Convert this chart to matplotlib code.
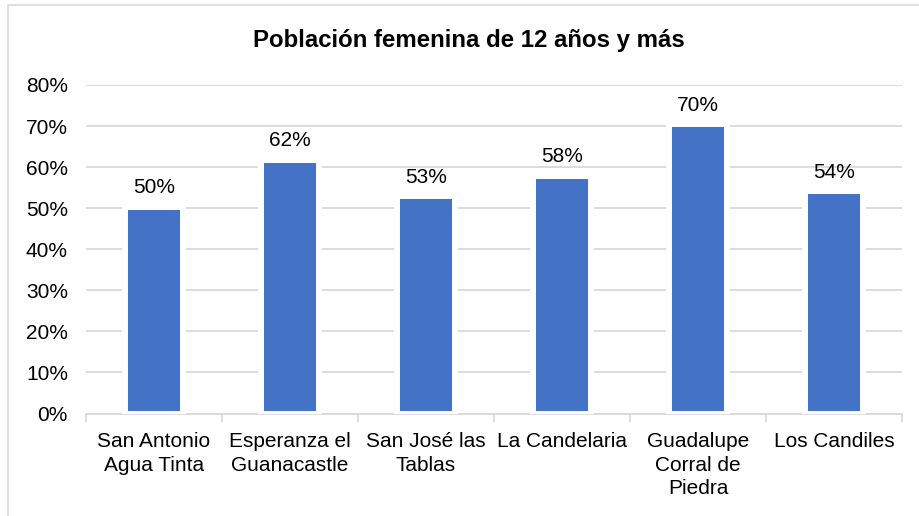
import matplotlib
matplotlib.use("Agg")
import matplotlib.pyplot as plt
from matplotlib.patches import Rectangle
import numpy as np

plt.rcParams['font.family'] = ['Liberation Sans', 'DejaVu Sans']

# data
categories = ["San Antonio\nAgua Tinta", "Esperanza el\nGuanacastle", "San José las\nTablas",
              "La Candelaria", "Guadalupe\nCorral de\nPiedra", "Los Candiles"]
values = [50.3, 61.8, 52.9, 57.9, 70.4, 54.1]
y_ticks = [0, 10, 20, 30, 40, 50, 60, 70, 80]

W, H = 919, 516
fig = plt.figure(figsize=(W / 100, H / 100), dpi=100)

# chart frame (cropped on the right and bottom)
fig.patches.append(Rectangle((8 / W, -0.1), 1.2, (H - 5) / H + 0.1, transform=fig.transFigure,
                             fill=False, edgecolor="#d9d9d9", linewidth=1.2))

ax = fig.add_axes([86 / W, (H - 413.5) / H, (902 - 86) / W, (413.5 - 85) / H])

x = np.arange(len(categories))
ax.bar(x, values, width=0.42, color="#4472C4", edgecolor="white", linewidth=4.3, zorder=3)

for xi, v in zip(x, values):
    ax.annotate(f"{v:.0f}%", (xi, v), xytext=(0, 7), textcoords="offset points",
                ha="center", va="bottom", fontsize=15, color="black")

ax.set_xlim(-0.5, len(categories) - 0.5)
ax.set_ylim(0, 80)
ax.set_yticks(y_ticks)
ax.set_yticklabels([f"{t}%" for t in y_ticks], fontsize=15)
ax.tick_params(axis="y", length=0, pad=13)
ax.grid(axis="y", color="#d9d9d9", linewidth=1.3, zorder=0)

# tick marks between categories, labels at centres
ax.set_xticks(np.arange(-0.5, len(categories), 1))
ax.set_xticklabels([])
ax.tick_params(axis="x", which="major", length=6, color="#d9d9d9", width=1.3)
ax.set_xticks(x, minor=True)
ax.set_xticklabels(categories, minor=True, fontsize=15, linespacing=1.3)
ax.tick_params(axis="x", which="minor", length=0, pad=13.5)

for s in ["top", "right", "left"]:
    ax.spines[s].set_visible(False)
ax.spines["bottom"].set_color("#d9d9d9")
ax.spines["bottom"].set_linewidth(1.3)
ax.set_axisbelow(True)

fig.text(469 / W, 1 - 40 / H, "Población femenina de 12 años y más", ha="center", va="center",
         fontsize=17.3, fontweight="bold")

fig.savefig("out.png", dpi=100)
